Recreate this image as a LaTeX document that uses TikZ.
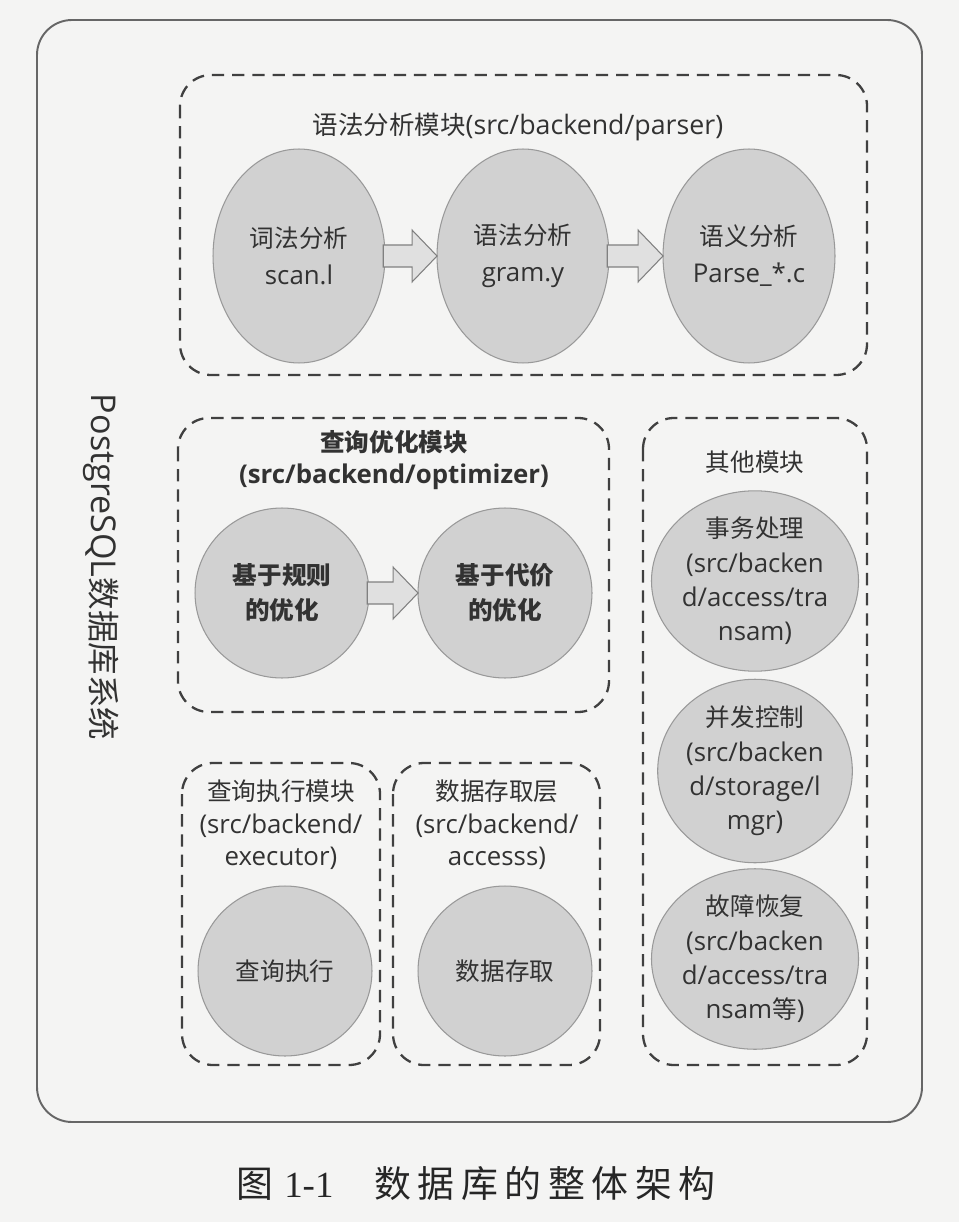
\documentclass[tikz,border=0pt]{standalone}
\usepackage{fontspec}
\setmainfont{Open Sans}[Scale=1.05]
\newfontfamily\cjk{Noto Sans CJK SC}
\newfontfamily\capcjk{Noto Sans CJK SC}[LetterSpace=18]
\newfontfamily\capserif{Liberation Serif}
\usepackage{tikz}
\usetikzlibrary{calc,shapes.geometric}
\definecolor{paper}{RGB}{244,244,243}
\definecolor{ink}{RGB}{50,50,50}
\newcommand\zh[1]{{\cjk #1}}
% fat grey arrow from one circle to the next
\newcommand\fatarrow[2]{%
  \path[fatarr] let \p1=(#1.east), \p2=(#2.west) in
    (\x1-1pt,\y1+0.22cm) -- (\x2-0.5cm,\y1+0.22cm) -- (\x2-0.5cm,\y1+0.52cm)
    -- (\x2,\y1) -- (\x2-0.5cm,\y1-0.52cm) -- (\x2-0.5cm,\y1-0.22cm)
    -- (\x1-1pt,\y1-0.22cm) -- cycle;}

\begin{document}
\begin{tikzpicture}[x=0.02cm,y=-0.02cm,
  modbox/.style={draw=black!75,line width=1.3pt,dash pattern=on 7pt off 4.5pt,rounded corners=0.62cm},
  blob/.style={ellipse,draw=black!40,line width=0.6pt,fill=black!18,text=ink,align=center,
    inner sep=0pt,outer sep=0pt,minimum width=3.48cm,minimum height=3.4cm,
    font=\fontsize{14}{19.5}\selectfont},
  fatarr/.style={draw=black!50,fill=black!12,line width=0.6pt},
  modtitle/.style={text=ink,align=center,font=\fontsize{14}{18.5}\selectfont}]
\useasboundingbox[fill=paper] (0,0) rectangle (959,1222);
% outer frame
\draw[black!60,line width=1.1pt,rounded corners=0.7cm] (37,20) rectangle (922,1122);
\node[rotate=-90,text=ink,font=\fontsize{18.5}{20}\selectfont] (sys) at (101,567) {PostgreSQL\zh{数据库系统}};

% parser module
\draw[modbox] (180,75) rectangle (867,375);
\node[modtitle,font=\fontsize{14.5}{18.5}\selectfont] (parsert) at (518,127) {\zh{语法分析模块}(src/backend/parser)};
\node[blob,minimum width=3.44cm,minimum height=4.28cm,font=\fontsize{14}{21}\selectfont] (scan) at (299,256) {\zh{词法分析}\\scan.l};
\node[blob,minimum width=3.44cm,minimum height=4.28cm,font=\fontsize{14}{21}\selectfont] (gram) at (523,256) {\zh{语法分析}\\gram.y};
\node[blob,minimum width=3.44cm,minimum height=4.28cm,font=\fontsize{14}{21}\selectfont] (sema) at (749,256) {\zh{语义分析}\\Parse\_*.c};
\fatarrow{scan}{gram}
\fatarrow{gram}{sema}

% optimizer module
\draw[modbox] (178,418) rectangle (609,712);
\node[modtitle,font=\fontsize{14}{18.5}\selectfont\bfseries] (optt) at (394,460) {\zh{查询优化模块}\\(src/backend/optimizer)};
\node[blob,font=\fontsize{14}{20}\selectfont\bfseries] (rule) at (282,593) {\zh{基于规则}\\\zh{的优化}};
\node[blob,font=\fontsize{14}{20}\selectfont\bfseries] (cost) at (505,593) {\zh{基于代价}\\\zh{的优化}};
\fatarrow{rule}{cost}

% executor module
\draw[modbox] (182,763) rectangle (380,1065);
\node[modtitle] (exect) at (281,825) {\zh{查询执行模块}\\(src/backend/\\executor)};
\node[blob] (exec) at (285,971) {\zh{查询执行}};

% storage access layer
\draw[modbox] (393,763) rectangle (600,1065);
\node[modtitle] (acct) at (497,825) {\zh{数据存取层}\\(src/backend/\\accesss)};
\node[blob] (acc) at (505,971) {\zh{数据存取}};

% other modules
\draw[modbox] (643,418) rectangle (867,1065);
\node[modtitle] (othert) at (755,462) {\zh{其他模块}};
\node[blob] (xact) at (755,581) {\zh{事务处理}\\(src/backen\\d/access/tra\\nsam)};
\node[blob] (lock) at (755,771) {\zh{并发控制}\\(src/backen\\d/storage/l\\mgr)};
\node[blob] (recov) at (755,959) {\zh{故障恢复}\\(src/backen\\d/access/tra\\nsam\zh{等})};

% caption
\node[text=black!85,font=\fontsize{21}{24}\selectfont] (cap) at (476,1183) {\capcjk 图\hspace{0.3em}{\capserif 1-1}\hspace{1.1em}数据库的整体架构};
\end{tikzpicture}
\end{document}
